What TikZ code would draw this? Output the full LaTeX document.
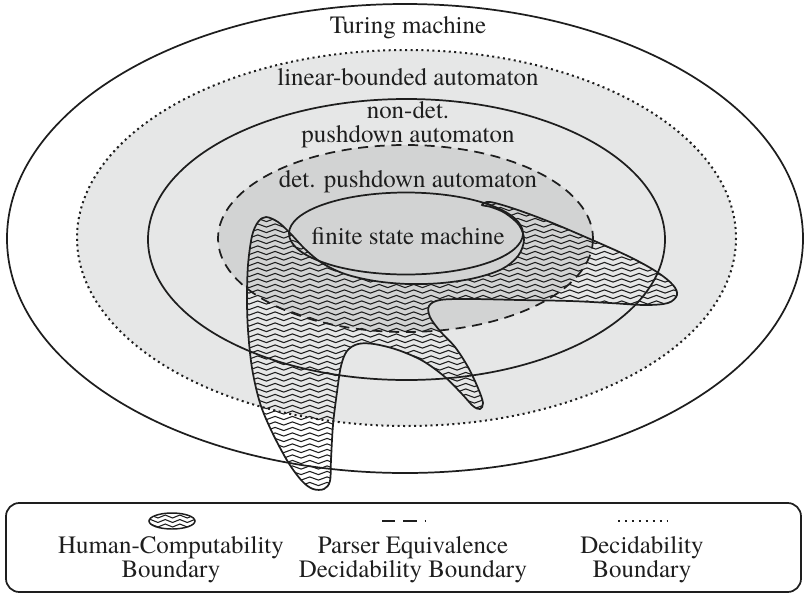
\documentclass[tikz,border=0pt]{standalone}
\usepackage{fontspec}
\setmainfont{texgyretermes}[Extension=.otf, UprightFont=*-regular, BoldFont=*-bold, ItalicFont=*-italic, BoldItalicFont=*-bolditalic]
\usetikzlibrary{decorations.pathmorphing}

\definecolor{outerfill}{HTML}{E6E7E7}
\definecolor{innerfill}{HTML}{D2D3D3}
\definecolor{inkgray}{HTML}{1E1E1E}

\tikzset{
  txt/.style={font=\rmfamily\fontsize{18.7}{17.5}\selectfont, text=inkgray, anchor=base, inner sep=0pt},
  solidline/.style={draw=inkgray, line width=1.3pt},
  dottedline/.style={draw=inkgray, line width=1.5pt, dash pattern=on 1.5pt off 2.6pt},
  dashedline/.style={draw=inkgray, line width=1.3pt, dash pattern=on 7.5pt off 5pt},
  waveline/.style={draw=inkgray, line width=0.8pt, decorate,
    decoration={snake, amplitude=1.2pt, segment length=13pt}},
}

% outline of the human-computability region
\def\blobpath{plot[smooth cycle, tension=0.55] coordinates{
  (266,217) (278,222) (290,233) (305,249) (322,263) (345,274) (375,281)
  (408,284) (442,283) (475,278) (502,269) (518,256) (524,240) (519,225)
  (505,213) (491,207) (482,205) (490,202) (515,209) (550,222) (590,239)
  (630,257) (657,272) (673,285) (677,295) (668,303) (645,305) (610,303)
  (570,301) (520,300) (470,299) (440,300) (429,306) (430,317) (440,331)
  (455,347) (468,367) (478,388) (483,403) (480,409) (473,406) (462,394)
  (445,377) (423,361) (398,350) (374,344) (358,344) (347,351) (341,366)
  (337,392) (333,425) (331,460) (330,481) (324,489) (313,489) (302,481)
  (288,462) (272,432) (260,403) (252,368) (248,330) (247,298) (248,265)
  (252,236) (258,222)}}

\begin{document}
\begin{tikzpicture}[x=0.75pt, y=-0.75pt]
\useasboundingbox (0,0) rectangle (804,594);

% shaded language classes
\fill[outerfill] (406.5,238) ellipse [x radius=329.5, y radius=188];
\fill[innerfill] (405.5,238.5) ellipse [x radius=187.5, y radius=93.5];

% wavy hatching of the human-computability region
\begin{scope}
  \clip \blobpath;
  \foreach \yy in {198,203.5,...,498}
    \draw[waveline] (235,\yy) -- (695,\yy);
\end{scope}

% class boundaries
\draw[solidline] (405,238.5) ellipse [x radius=398, y radius=234.5];
\draw[dottedline] (406.5,238) ellipse [x radius=329.5, y radius=188];
\draw[solidline] (406.5,239.5) ellipse [x radius=258.5, y radius=140.5];
\draw[dashedline] (405.5,238.5) ellipse [x radius=187.5, y radius=93.5];
\draw[solidline] (406,233.5) ellipse [x radius=117, y radius=41];

% human-computability boundary
\draw[solidline] \blobpath;

% class names
\node[txt] (turing) at (408,33) {Turing machine};
\node[txt] (lba) at (408,85) {linear-bounded automaton};
\node[txt] (npda1) at (408,118) {non-det.};
\node[txt] (npda2) at (408,142) {pushdown automaton};
\node[txt] (dpda) at (408,187) {det. pushdown automaton};
\node[txt] (fsm) at (408,244) {finite state machine};

% legend
\draw[solidline, rounded corners=10pt] (6,503) rectangle (801,592);

\begin{scope}
  \clip (172,521) ellipse [x radius=23, y radius=8];
  \foreach \yy in {516.5,521,525.5}
    \draw[waveline, decoration={snake, amplitude=1.1pt, segment length=11pt}] (146,\yy) -- (200,\yy);
\end{scope}
\draw[draw=inkgray, line width=1.1pt] (172,521) ellipse [x radius=23, y radius=8];
\coordinate (dashA) at (382,521);
\coordinate (dashB) at (426,521);
\draw[dashedline, dash pattern=on 10pt off 6pt] (dashA) -- (dashB);
\coordinate (dotA) at (618,521);
\coordinate (dotB) at (667,521);
\draw[dottedline, dash pattern=on 1.5pt off 3.7pt] (dotA) -- (dotB);

\node[txt] (hc1) at (171,553) {Human-Computability};
\node[txt] (hc2) at (171,577) {Boundary};
\node[txt] (pe1) at (413,553) {Parser Equivalence};
\node[txt] (pe2) at (413,577) {Decidability Boundary};
\node[txt] (db1) at (642,553) {Decidability};
\node[txt] (db2) at (642,577) {Boundary};
\end{tikzpicture}
\end{document}
